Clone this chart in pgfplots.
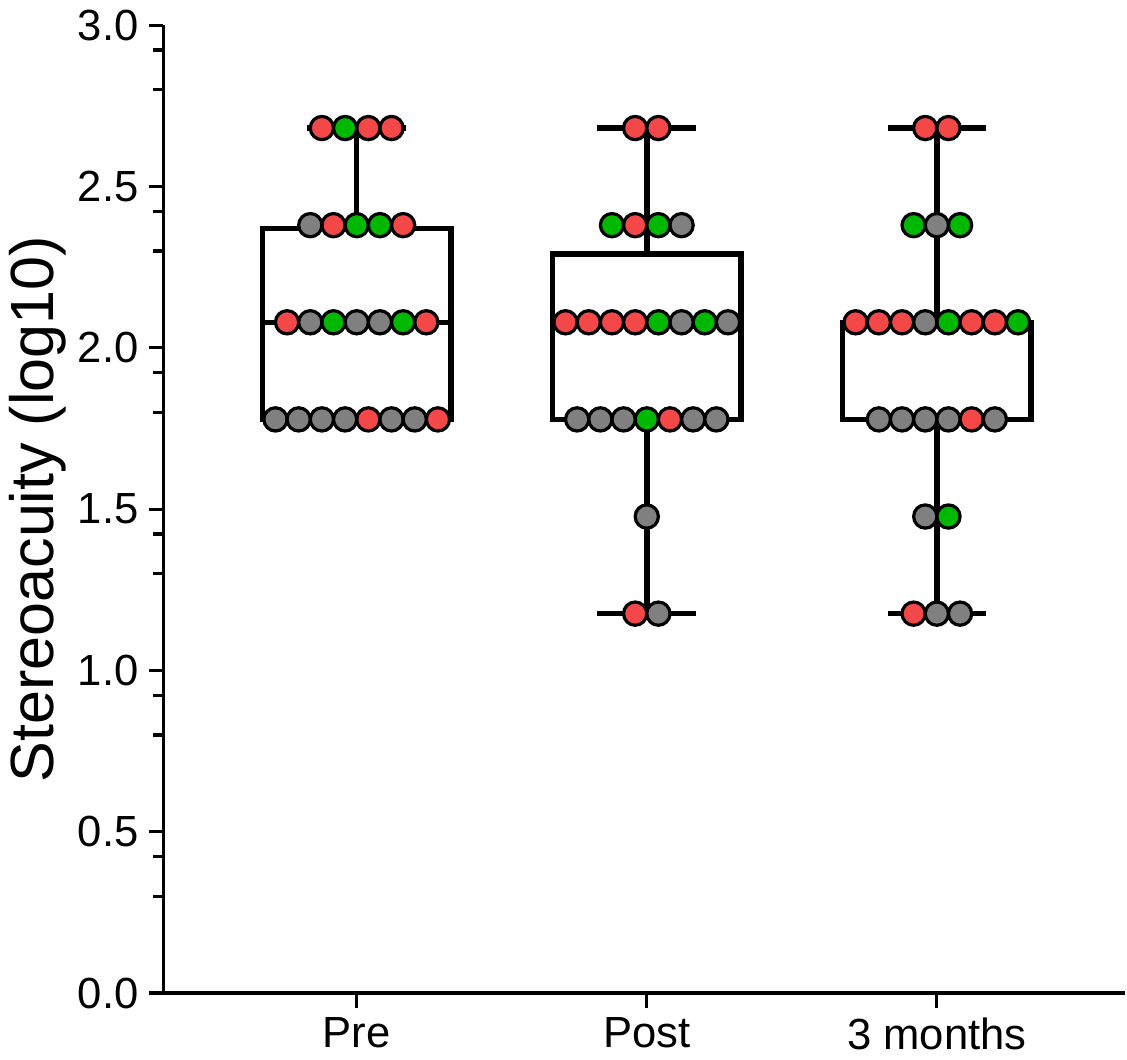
\documentclass[border=0pt]{standalone}
\usepackage{fontspec}
\setmainfont{Liberation Sans}
\usepackage{pgfplots}
\pgfplotsset{compat=1.18}
\usepgfplotslibrary{statistics}
\definecolor{dotred}{RGB}{244,72,72}
\definecolor{dotgreen}{RGB}{0,184,0}
\definecolor{dotgrey}{RGB}{128,128,128}

\begin{document}
\begin{tikzpicture}
\begin{axis}[
  scale only axis,
  width=331pt, height=333pt,
  xmin=-0.667, xmax=2.65,
  ymin=0, ymax=3,
  clip=false,
  axis lines=left,
  axis line style={-, line width=1.1pt},
  xtick={0,1,2},
  xticklabels={Pre,Post,3 months},
  ytick={0,0.5,...,3.0},
  minor ytick={0.3,0.423,0.8,0.923,1.3,1.423,1.8,1.923,2.3,2.423,2.8,2.923},
  tick align=outside,
  major tick length=5pt,
  minor tick length=3.5pt,
  tick style={black, line width=1.1pt},
  yticklabel style={/pgf/number format/.cd, fixed, fixed zerofill, precision=1},
  /pgf/number format/assume math mode=true,
  tick label style={font=\fontsize{15}{17}\selectfont},
  ylabel={Stereoacuity (log10)},
  ylabel style={font=\fontsize{21}{24}\selectfont, yshift=-3pt},
  boxplot/draw direction=y,
]
% boxes: min, Q1, median, Q3, max
\addplot[black, line width=1.9pt, mark=none, boxplot prepared={
  lower whisker=1.778, lower quartile=1.778, median=2.079,
  upper quartile=2.37, upper whisker=2.681,
  draw position=0, box extend=0.65, whisker extend=0.34}] coordinates {};
\addplot[black, line width=1.9pt, mark=none, boxplot prepared={
  lower whisker=1.176, lower quartile=1.778, median=2.079,
  upper quartile=2.29, upper whisker=2.681,
  draw position=1, box extend=0.65, whisker extend=0.34}] coordinates {};
\addplot[black, line width=1.9pt, mark=none, boxplot prepared={
  lower whisker=1.176, lower quartile=1.778, median=2.079,
  upper quartile=2.079, upper whisker=2.681,
  draw position=2, box extend=0.65, whisker extend=0.34}] coordinates {};
% individual subjects
\addplot[only marks, mark=*, mark size=4pt, draw=black, line width=1.1pt, fill=dotred] coordinates {
  (-0.12,2.681) (0.04,2.681) (0.12,2.681) (-0.08,2.380) (0.16,2.380)
  (-0.24,2.079) (0.24,2.079) (0.04,1.778) (0.28,1.778)
  (0.96,2.681) (1.04,2.681) (0.96,2.380) (0.72,2.079) (0.80,2.079)
  (0.88,2.079) (0.96,2.079) (1.08,1.778) (0.96,1.176)
  (1.96,2.681) (2.04,2.681) (1.72,2.079) (1.80,2.079) (1.88,2.079)
  (2.12,2.079) (2.20,2.079) (2.12,1.778) (1.92,1.176)
};
\addplot[only marks, mark=*, mark size=4pt, draw=black, line width=1.1pt, fill=dotgreen] coordinates {
  (-0.04,2.681) (0,2.380) (0.08,2.380) (-0.08,2.079) (0.16,2.079)
  (0.88,2.380) (1.04,2.380) (1.04,2.079) (1.20,2.079) (1.00,1.778)
  (1.92,2.380) (2.08,2.380) (2.04,2.079) (2.28,2.079) (2.04,1.477)
};
\addplot[only marks, mark=*, mark size=4pt, draw=black, line width=1.1pt, fill=dotgrey] coordinates {
  (-0.16,2.380) (-0.16,2.079) (0,2.079) (0.08,2.079)
  (-0.28,1.778) (-0.20,1.778) (-0.12,1.778) (-0.04,1.778) (0.12,1.778) (0.20,1.778)
  (1.12,2.380) (1.12,2.079) (1.28,2.079) (0.76,1.778) (0.84,1.778)
  (0.92,1.778) (1.16,1.778) (1.24,1.778) (1.00,1.477) (1.04,1.176)
  (2.00,2.380) (1.96,2.079) (1.80,1.778) (1.88,1.778) (1.96,1.778)
  (2.04,1.778) (2.20,1.778) (1.96,1.477) (2.00,1.176) (2.08,1.176)
};
\end{axis}
\end{tikzpicture}
\end{document}
